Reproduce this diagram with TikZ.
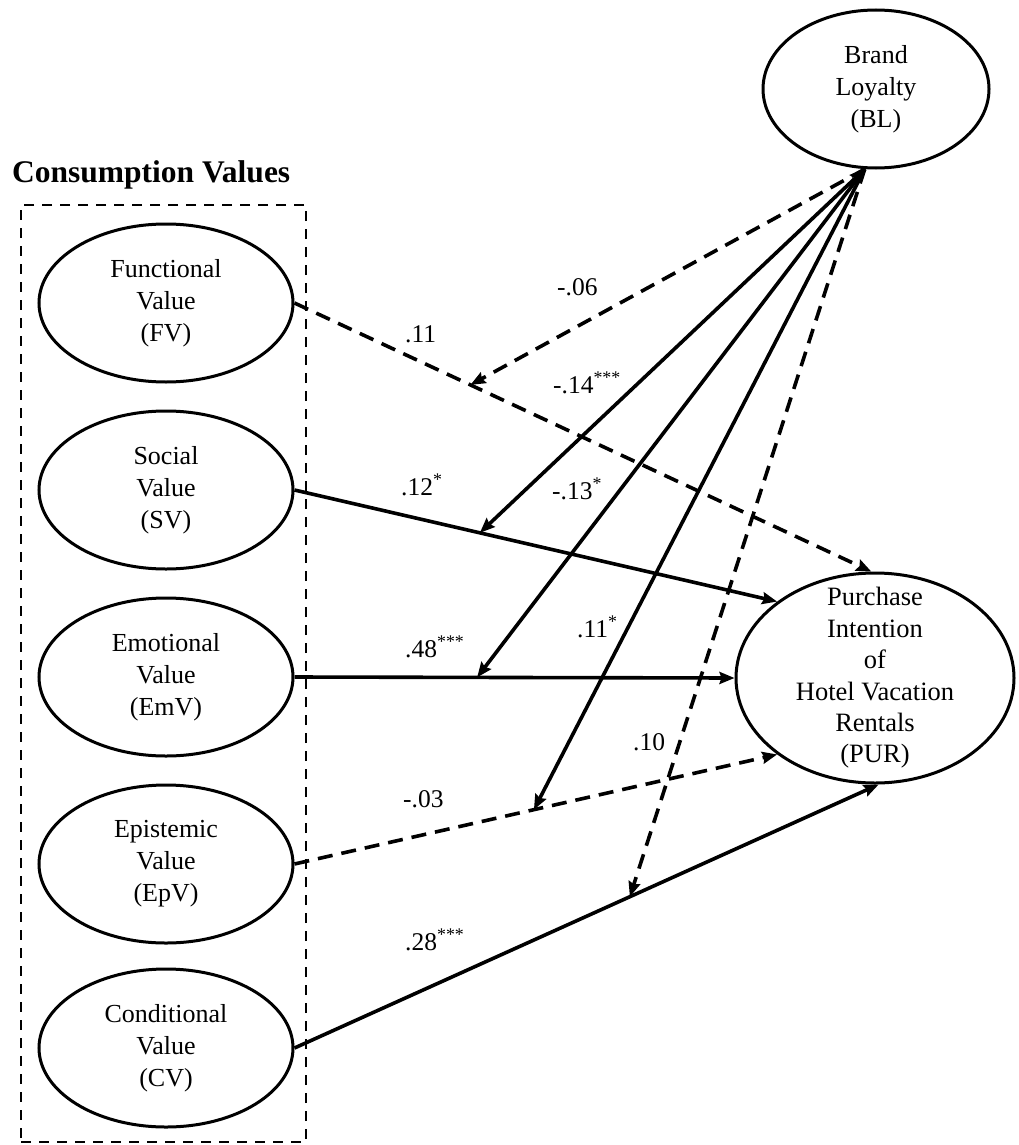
\documentclass[tikz,border=0pt]{standalone}
\usepackage{fontspec}
\setmainfont{Liberation Serif}
\usetikzlibrary{shapes.geometric,arrows.meta,calc}
\begin{document}
\begin{tikzpicture}[x=1pt,y=-1pt,
  latent/.style={ellipse,draw,line width=3pt,minimum width=254pt,minimum height=158pt,
    inner sep=0pt,align=center,font=\fontsize{26}{32}\selectfont},
  pathsolid/.style={line width=3.6pt,-{Stealth[length=15pt,width=12pt,inset=2pt]}},
  pathdashed/.style={pathsolid,dash pattern=on 15pt off 9pt},
  coef/.style={anchor=base west,inner sep=0pt,font=\fontsize{25.5}{30}\selectfont},
]
\useasboundingbox (0,0) rectangle (1018,1145);

% group of consumption values
\node[anchor=base west,inner sep=0pt,font=\fontsize{31.5}{36}\selectfont\bfseries] (head) at (12,182) {Consumption Values};
\node[draw,dash pattern=on 10pt off 8pt,line width=2.8pt,minimum width=285pt,minimum height=937pt,inner sep=0pt] (group) at (163.5,673.5) {};

% latent constructs
\node[latent] (FV)  at (166,303)  {Functional\\Value\\(FV)};
\node[latent] (SV)  at (166,490)  {Social\\Value\\(SV)};
\node[latent] (EmV) at (166,677)  {Emotional\\Value\\(EmV)};
\node[latent] (EpV) at (166,864)  {Epistemic\\Value\\(EpV)};
\node[latent] (CV)  at (166,1048) {Conditional\\Value\\(CV)};
\node[latent,minimum width=226pt] (BL) at (876,89) {Brand\\Loyalty\\(BL)};
\node[latent,minimum width=278pt,minimum height=210pt] (PUR) at (875,678) {};
\node[align=center,inner sep=0pt,font=\fontsize{26.5}{31.4}\selectfont] (PURtext) at (PUR.center) {Purchase\\Intention\\of\\Hotel Vacation\\Rentals\\(PUR)};

% direct paths
\draw[pathdashed] (FV.east)  -- (PUR.92);
\draw[pathsolid]  (SV.east)  -- (PUR.142);
\draw[pathsolid]  (EmV.east) -- (PUR.west);
\draw[pathdashed] (EpV.east) -- (PUR.218);
\draw[pathsolid]  (CV.east)  -- (PUR.272);

% moderation targets on the direct paths
\coordinate (mFV)  at ($(FV.east)!0.305!(PUR.92)$);
\coordinate (mSV)  at ($(SV.east)!0.384!(PUR.142)$);
\coordinate (mEmV) at ($(EmV.east)!0.415!(PUR.west)$);
\coordinate (mEpV) at ($(EpV.east)!0.496!(PUR.218)$);
\coordinate (mCV)  at ($(CV.east)!0.574!(PUR.272)$);

% moderating effects of brand loyalty
\draw[pathdashed] (BL.262) -- (mFV);
\draw[pathsolid,{Stealth[length=15pt,width=12pt,inset=2pt]}-{Stealth[length=15pt,width=12pt,inset=2pt]}] (BL.262) -- (mSV);
\draw[pathsolid]  (BL.262) -- (mEmV);
\draw[pathsolid]  (BL.262) -- (mEpV);
\draw[pathdashed] (BL.262) -- (mCV);

% coefficients
\node[coef] (c1) at (405,342) {.11};
\node[coef] (c2) at (557,295) {-.06};
\node[coef] (c3) at (553,393) {-.14\textsuperscript{***}};
\node[coef] (c4) at (401,495) {.12\textsuperscript{*}};
\node[coef] (c5) at (552,499) {-.13\textsuperscript{*}};
\node[coef] (c6) at (405,657) {.48\textsuperscript{***}};
\node[coef] (c7) at (577,637) {.11\textsuperscript{*}};
\node[coef] (c8) at (633,750) {.10};
\node[coef] (c9) at (403,807) {-.03};
\node[coef] (c10) at (405,950) {.28\textsuperscript{***}};
\end{tikzpicture}
\end{document}
